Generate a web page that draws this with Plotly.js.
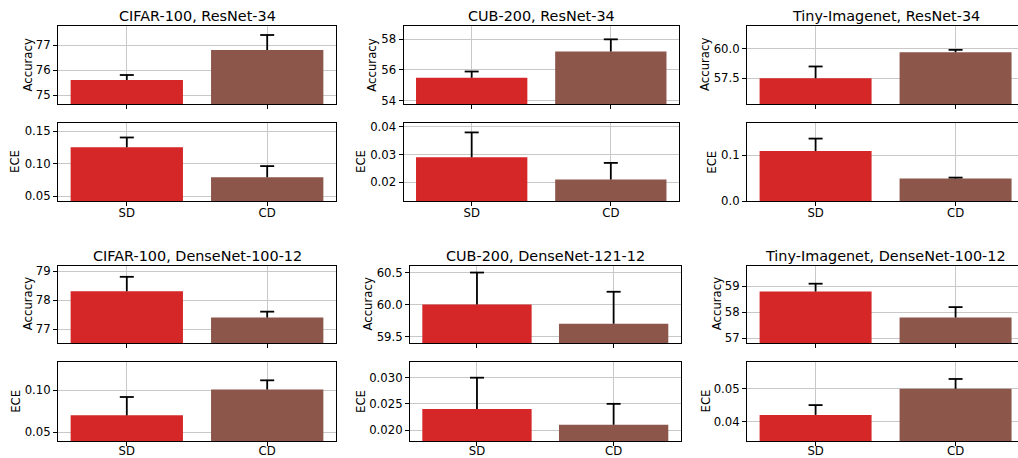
<!DOCTYPE html>
<html>
<head>
<meta charset="utf-8">
<script src="https://cdn.plot.ly/plotly-3.0.1.min.js"></script>
<style>html,body{margin:0;padding:0;background:#fff;}#chart{width:1018px;height:458px;}</style>
</head>
<body>
<div id="chart"></div>
<script>
// ---- data ----
const categories = ['SD', 'CD'];
const titles = [
  'CIFAR-100, ResNet-34', 'CUB-200, ResNet-34', 'Tiny-Imagenet, ResNet-34',
  'CIFAR-100, DenseNet-100-12', 'CUB-200, DenseNet-121-12', 'Tiny-Imagenet, DenseNet-100-12'
];
const accLabel = 'Accuracy';
const eceLabel = 'ECE';
// accuracy means / upper errors (one per panel, [SD, CD])
const accMean = [
  [75.6, 76.8], [55.5, 57.2], [57.5, 59.7],
  [78.3, 77.4], [60.0, 59.7], [58.8, 57.8]
];
const accErr = [
  [0.2, 0.6], [0.4, 0.8], [1.0, 0.2],
  [0.5, 0.2], [0.5, 0.5], [0.3, 0.4]
];
const eceMean = [
  [0.125, 0.079], [0.029, 0.021], [0.109, 0.049],
  [0.070, 0.101], [0.024, 0.021], [0.042, 0.050]
];
const eceErr = [
  [0.015, 0.017], [0.009, 0.006], [0.027, 0.002],
  [0.022, 0.011], [0.006, 0.004], [0.003, 0.003]
];
// axis ranges
const accRange = [
  [74.64, 77.76], [53.78, 58.87], [55.34, 61.91],
  [76.52, 79.19], [59.40, 60.61], [56.82, 59.80]
];
const eceRange = [
  [0.0423, 0.1623], [0.01325, 0.0414], [0.0, 0.170],
  [0.0392, 0.134], [0.0179, 0.033], [0.034, 0.0582]
];
// tick values / labels
const accTicks = [
  [75, 76, 77], [54, 56, 58], [57.5, 60.0],
  [77, 78, 79], [59.5, 60.0, 60.5], [57, 58, 59]
];
const accTickText = [
  ['75', '76', '77'], ['54', '56', '58'], ['57.5', '60.0'],
  ['77', '78', '79'], ['59.5', '60.0', '60.5'], ['57', '58', '59']
];
const eceTicks = [
  [0.05, 0.10, 0.15], [0.02, 0.03, 0.04], [0.0, 0.1],
  [0.05, 0.10], [0.020, 0.025, 0.030], [0.04, 0.05]
];
const eceTickText = [
  ['0.05', '0.10', '0.15'], ['0.02', '0.03', '0.04'], ['0.0', '0.1'],
  ['0.05', '0.10'], ['0.020', '0.025', '0.030'], ['0.04', '0.05']
];
const barColors = ['#d62728', '#8c564b'];

// ---- layout geometry (pixels) ----
const W = 1018, H = 458;
// per panel: axes left/right pixel and x range
const panelX = [
  [58, 336], [403.5, 679], [747, 1018],
  [58, 336], [410, 680.6], [747, 1018]
];
const panelXRange = [
  [-0.49, 1.49], [-0.49, 1.49], [-0.49, 1.446],
  [-0.49, 1.49], [-0.49, 1.49], [-0.49, 1.446]
];
const panelCenter = [197, 541, 885.7, 197, 545.3, 885.7];
const groupRows = [
  {acc: [26, 104], ece: [123, 201], title: 16, tickShift: -3},
  {acc: [265.5, 343], ece: [362, 441], title: 256, tickShift: -5}
];
// y-label x-centres per panel
const accLabelX = [27.5, 371.7, 705, 28, 368.3, 717];
const eceLabelX = [15, 361, 711.7, 15.3, 360.5, 705];

const FONT = 'DejaVu Sans, Liberation Sans, sans-serif';
const FS = 11.7;

const data = [];
const layout = {
  width: W, height: H,
  margin: {l: 0, r: 0, t: 0, b: 0},
  paper_bgcolor: '#fff', plot_bgcolor: '#fff',
  showlegend: false,
  font: {family: FONT, size: FS, color: '#000'},
  annotations: []
};

function axisBase() {
  return {
    showline: true, linecolor: '#000', linewidth: 1,
    ticks: 'outside', ticklen: 4, tickwidth: 1, tickcolor: '#000',
    showgrid: true, gridcolor: '#c8c8c8', gridwidth: 1,
    zeroline: false, fixedrange: true,
    tickfont: {family: FONT, size: FS, color: '#000'}
  };
}

let axN = 0;
for (let p = 0; p < 6; p++) {
  const g = Math.floor(p / 3), c = p % 3;
  const rows = groupRows[g];
  ['acc', 'ece'].forEach((kind) => {
    axN++;
    const sfx = axN === 1 ? '' : String(axN);
    const xr = 'x' + sfx, yr = 'y' + sfx;
    const isAcc = kind === 'acc';
    const mean = isAcc ? accMean[p] : eceMean[p];
    const err = isAcc ? accErr[p] : eceErr[p];
    data.push({
      type: 'bar', x: categories, y: mean,
      xaxis: xr, yaxis: yr, width: 0.8,
      marker: {color: barColors, line: {width: 0}},
      error_y: {type: 'data', symmetric: false, array: err, arrayminus: [0, 0],
                color: '#000', thickness: 1.8, width: 0}
    });
    // caps at top of the error bars
    data.push({
      type: 'scatter', mode: 'markers', x: categories,
      y: mean.map((m, i) => m + err[i]),
      xaxis: xr, yaxis: yr, cliponaxis: false,
      marker: {symbol: 'line-ew', size: 10, color: '#000', line: {color: '#000', width: 1.8}}
    });
    const pix = isAcc ? rows.acc : rows.ece;
    const xAx = axisBase();
    Object.assign(xAx, {
      domain: [panelX[p][0] / W, panelX[p][1] / W],
      range: panelXRange[p], type: 'category',
      anchor: yr, mirror: true,
      showticklabels: !isAcc, ticklabelstandoff: rows.tickShift
    });
    const yAx = axisBase();
    Object.assign(yAx, {
      domain: [1 - pix[1] / H, 1 - pix[0] / H],
      range: isAcc ? accRange[p] : eceRange[p],
      tickmode: 'array',
      tickvals: isAcc ? accTicks[p] : eceTicks[p],
      ticktext: isAcc ? accTickText[p] : eceTickText[p],
      anchor: xr, mirror: c !== 2
    });
    layout['xaxis' + sfx] = xAx;
    layout['yaxis' + sfx] = yAx;
    layout.annotations.push({
      text: isAcc ? accLabel : eceLabel, xref: 'paper', yref: 'paper',
      x: (isAcc ? accLabelX[p] : eceLabelX[p]) / W,
      y: 1 - (pix[0] + pix[1]) / 2 / H,
      xanchor: 'center', yanchor: 'middle', textangle: -90, showarrow: false,
      font: {family: FONT, size: FS, color: '#000'}
    });
  });
  layout.annotations.push({
    text: titles[p], xref: 'paper', yref: 'paper',
    x: panelCenter[p] / W, y: 1 - rows.title / H,
    xanchor: 'center', yanchor: 'middle', showarrow: false,
    font: {family: FONT, size: 14.4, color: '#000'}
  });
}

Plotly.newPlot('chart', data, layout, {displayModeBar: false, staticPlot: true});
</script>
</body>
</html>
